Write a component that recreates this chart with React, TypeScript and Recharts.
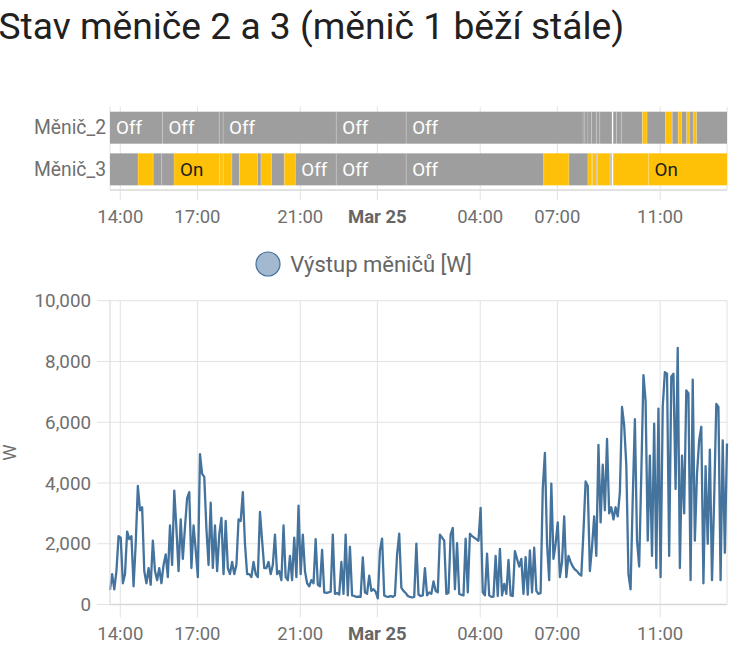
import {
  BarChart,
  Bar,
  LineChart,
  Line,
  XAxis,
  YAxis,
  CartesianGrid,
  Legend,
} from 'recharts'

// window: Mar 24 13:36 -> Mar 25 13:36, hours counted from Mar 24 00:00
const START_H = 13.6
const END_H = 37.6
const STEP_H = 5 / 60

const tickHours = [14, 17, 21, 24, 28, 31, 35]
const tickLabels = ['14:00', '17:00', '21:00', 'Mar 25', '04:00', '07:00', '11:00']
const yTicks = [0, 2000, 4000, 6000, 8000, 10000]

const rowNames = ['Měnič_2', 'Měnič_3']

// [state, end hour]
const menic2Segments: [string, number][] = [
  ['off', 15.64], ['off', 17.85], ['off', 18.0], ['off', 22.4], ['off', 25.12],
  ['off', 32.0], ['off', 32.07], ['off', 32.19], ['off', 32.33], ['off', 32.52],
  ['off', 32.65], ['off', 33.13], ['unavailable', 33.17], ['off', 33.3], ['off', 33.49],
  ['off', 34.31], ['on', 34.49], ['off', 35.21], ['on', 35.47], ['off', 35.7],
  ['on', 35.83], ['off', 36.03], ['on', 36.16], ['off', 36.28], ['on', 36.42],
  ['off', 37.6],
]

const menic3Segments: [string, number][] = [
  ['off', 14.69], ['on', 15.28], ['off', 15.61], ['off', 16.09], ['on', 17.87],
  ['on', 18.0], ['on', 18.34], ['off', 18.63], ['on', 19.34], ['off', 19.47],
  ['on', 19.88], ['off', 20.38], ['on', 20.81], ['off', 22.4], ['off', 25.12],
  ['off', 30.47], ['on', 31.45], ['off', 32.19], ['on', 32.33], ['off', 32.36],
  ['on', 32.52], ['off', 32.55], ['on', 33.05], ['off', 33.08], ['on', 33.13],
  ['unavailable', 33.17], ['on', 34.55], ['on', 37.6],
]

// Výstup měničů [W], one value per 5 minutes
const outAfternoon = [
  480, 1000, 500, 1100, 2250, 2200, 700, 1000, 2400, 2150, 2250, 600,
  2000, 3900, 3100, 3200, 1100, 700, 1200, 650, 2100, 1100, 800, 1200,
  700, 1300, 1650, 900, 2600, 1300, 3750, 2500, 1100, 2800, 1500, 2550,
  3500, 3700, 1200, 2600, 1800, 900, 4950, 4300, 4200, 2500, 1300, 3350,
  1200, 2600, 1100, 2300, 2850, 1000, 2750, 1200, 1000, 1400, 1000, 1300,
  2800, 2750, 3700, 2000, 1000, 1000, 900, 1400, 1000, 900, 3050, 2100,
]

const outEvening = [
  1200, 1200, 1400, 1000, 1300, 2300, 1000, 1100, 800, 2600, 900, 800,
  1600, 800, 2200, 900, 3250, 1000, 2300, 1100, 700, 600, 800, 700,
  2150, 650, 600, 1800, 400, 380, 400, 420, 2300, 350, 380, 330,
  1400, 350, 2300, 300, 1900, 300, 280, 250, 260, 250, 1550, 400,
  350, 950, 450, 500, 420, 200, 1780, 2170, 300, 260, 250, 280,
  250, 300, 1640, 2330, 550, 450, 380, 280, 250, 230, 250,
]

const outNight = [
  2000, 330, 280, 300, 1200, 300, 400, 350, 760, 450, 400, 2300,
  2200, 2100, 350, 380, 2300, 2520, 500, 2020, 350, 320, 300, 2170,
  400, 2330, 2250, 2200, 2150, 2100, 3180, 400, 300, 1670, 300, 250,
  260, 1600, 280, 1830, 300, 680, 350, 1470, 300, 280, 1760, 1500,
  1250, 1500, 350, 1560, 320, 1780, 400, 1870, 450, 350, 380, 3800,
  4990, 2000, 800, 3980, 1500, 2000, 2700, 900, 1400, 2900,
]

const outMorning = [
  900, 1600, 1400, 1250, 1150, 1100, 1000, 950, 2400, 4050, 3900, 1100,
  1900, 2900, 1600, 5250, 2700, 4600, 3100, 5450, 3000, 3200, 2800, 3200,
  2900, 3700, 6500, 5900, 4600, 1000, 500, 3500, 6100, 2100, 1250, 4300,
  7550, 6700, 2100, 4900, 1600, 5950, 1200, 6450, 900, 6500, 7650, 7600,
  1600, 7500, 7600, 3800, 8450, 1200, 4900, 3000, 7050, 6950, 800, 7400,
  2100, 4300, 5400, 5850, 700, 4550, 2000, 5100, 800, 3450, 6600, 6500,
  800, 5400, 1700, 5300,
]

const stateLabels: Record<string, string> = { on: 'On', off: 'Off', unavailable: '' }
const stateColors: Record<string, string> = {
  on: '#ffc107',
  off: '#9e9e9e',
  unavailable: '#ffffff',
}

const FONT = 'Roboto'
const TEXT_GREY = '#6f6f6f'
const GRID = '#e2e2e2'

const segmentRows = [menic2Segments, menic3Segments]
const maxSegments = Math.max(...segmentRows.map((s) => s.length))

const timelineData = segmentRows.map((segs, r) => {
  const row: Record<string, string | number> = { row: rowNames[r] }
  let prev = START_H
  segs.forEach(([, end], k) => {
    row[`d${k}`] = end - prev
    prev = end
  })
  return row
})

const powerW = [...outAfternoon, ...outEvening, ...outNight, ...outMorning]
const powerData = powerW.map((w, i) => ({ t: START_H + i * STEP_H, w }))

function TimeTick(props: any) {
  const { x, y, index } = props
  const label = tickLabels[index]
  const bold = label === 'Mar 25'
  return (
    <text
      x={x}
      y={y}
      dy="0.71em"
      textAnchor="middle"
      fontFamily={FONT}
      fontSize={18.5}
      fontWeight={bold ? 700 : 400}
      fill={bold ? '#666666' : TEXT_GREY}
    >
      {label}
    </text>
  )
}

function Segment(props: any) {
  const { x, y, width, height, index, k } = props
  const seg = segmentRows[index]?.[k]
  if (!seg || !width || width <= 0) return null
  const state = seg[0]
  return (
    <g>
      <rect x={x} y={y} width={width} height={height} fill={stateColors[state]} />
      {k > 0 && (
        <line
          x1={x}
          x2={x}
          y1={y}
          y2={y + height}
          stroke="#ffffff"
          strokeOpacity={0.22}
          strokeWidth={1}
        />
      )}
      {width >= 38 && (
        <text
          x={x + 6}
          y={y + height / 2}
          dy="0.36em"
          fontFamily={FONT}
          fontSize={18.8}
          fill={state === 'on' ? '#1c1c1c' : '#ffffff'}
        >
          {stateLabels[state]}
        </text>
      )}
    </g>
  )
}

function YLabel(props: any) {
  const vb = props.viewBox || { y: 60, height: 304 }
  const cx = 10
  const cy = vb.y + vb.height / 2
  return (
    <text
      x={cx}
      y={cy}
      transform={`rotate(-90 ${cx} ${cy})`}
      textAnchor="middle"
      dominantBaseline="central"
      fontFamily={FONT}
      fontSize={18.5}
      fill={TEXT_GREY}
    >
      W
    </text>
  )
}

function PowerLegend() {
  return (
    <div
      style={{
        height: 60.7,
        boxSizing: 'border-box',
        paddingTop: 12,
        display: 'flex',
        justifyContent: 'center',
      }}
    >
      <div style={{ display: 'flex', alignItems: 'center', height: 24 }}>
        <svg width={26} height={26}>
          <circle cx={13} cy={13} r={12} fill="#a2b9d0" stroke="#44739e" strokeWidth={1.2} />
        </svg>
        <span style={{ marginLeft: 9, fontSize: 22, color: '#666666', fontFamily: FONT }}>
          Výstup měničů [W]
        </span>
      </div>
    </div>
  )
}

export default function App() {
  return (
    <div
      style={{
        position: 'absolute',
        left: 0,
        top: 0,
        width: 735,
        height: 653,
        background: '#ffffff',
        overflow: 'hidden',
        fontFamily: FONT,
      }}
    >
      <div
        style={{
          position: 'absolute',
          left: -1.5,
          top: 8.2,
          fontSize: 37.2,
          lineHeight: 1,
          color: '#212121',
          whiteSpace: 'nowrap',
        }}
      >
        Stav měniče 2 a 3 (měnič 1 běží stále)
      </div>

      <div style={{ position: 'absolute', left: 0, top: 100 }}>
        <BarChart
          layout="vertical"
          width={735}
          height={130}
          data={timelineData}
          margin={{ top: 6.7, right: 8, bottom: 0, left: 0 }}
          barCategoryGap={5}
        >
          <CartesianGrid horizontal={false} stroke={GRID} />
          <XAxis
            type="number"
            domain={[0, END_H - START_H]}
            ticks={tickHours.map((h) => h - START_H)}
            interval={0}
            tick={<TimeTick />}
            tickSize={10}
            tickMargin={10}
            tickLine={{ stroke: GRID }}
            axisLine={{ stroke: GRID, strokeWidth: 2 }}
            height={40}
          />
          <YAxis
            type="category"
            dataKey="row"
            width={110}
            axisLine={false}
            tickLine={false}
            tickSize={0}
            tickMargin={4}
            tick={{ fill: TEXT_GREY, fontSize: 19.3, fontFamily: FONT }}
          />
          {Array.from({ length: maxSegments }, (_, k) => (
            <Bar
              key={k}
              dataKey={`d${k}`}
              stackId="state"
              isAnimationActive={false}
              shape={(p: any) => <Segment {...p} k={k} />}
            />
          ))}
        </BarChart>
      </div>

      <div style={{ position: 'absolute', left: 0, top: 240 }}>
        <LineChart
          width={735}
          height={413}
          data={powerData}
          margin={{ top: 0, right: 8, bottom: 0, left: 0 }}
        >
          <CartesianGrid stroke={GRID} />
          <Legend verticalAlign="top" align="center" content={() => <PowerLegend />} />
          <XAxis
            dataKey="t"
            type="number"
            domain={[START_H, END_H]}
            ticks={tickHours}
            interval={0}
            tick={<TimeTick />}
            tickSize={13}
            tickMargin={9}
            tickLine={{ stroke: GRID }}
            axisLine={{ stroke: '#d6d6d6', strokeWidth: 1.5 }}
            height={48.5}
          />
          <YAxis
            domain={[0, 10000]}
            ticks={yTicks}
            interval={0}
            width={110}
            tickSize={13}
            tickMargin={6}
            tickLine={{ stroke: GRID }}
            axisLine={{ stroke: GRID }}
            tickFormatter={(v: number) => v.toLocaleString('en-US')}
            tick={{ fill: TEXT_GREY, fontSize: 18.8, fontFamily: FONT }}
            label={(p: any) => <YLabel {...p} />}
          />
          <Line
            type="linear"
            dataKey="w"
            stroke="#44739e"
            strokeWidth={2.3}
            strokeLinejoin="round"
            dot={false}
            isAnimationActive={false}
          />
        </LineChart>
      </div>
    </div>
  )
}
